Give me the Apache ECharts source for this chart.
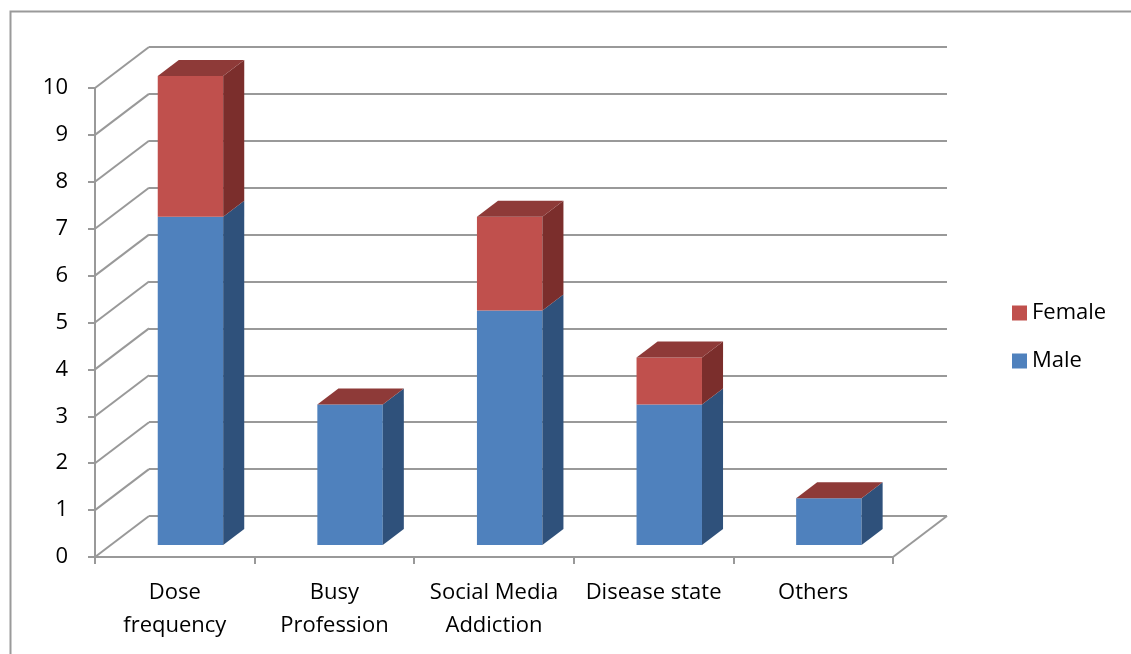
<!DOCTYPE html>
<html>
<head>
<meta charset="utf-8">
<script src="https://cdn.jsdelivr.net/npm/echarts@6/dist/echarts.min.js"></script>
<style>
  html, body { margin: 0; padding: 0; background: #ffffff; }
  #chart { width: 1131px; height: 654px; }
</style>
</head>
<body>
<div id="chart"></div>
<script>
// Chart data
const categories = ['Dose\nfrequency', 'Busy\nProfession', 'Social Media\nAddiction', 'Disease state', 'Others'];
const maleValues = [7, 3, 5, 3, 1];
const femaleValues = [3, 0, 2, 1, 0];
const yTicks = [0, 1, 2, 3, 4, 5, 6, 7, 8, 9, 10];

// Pseudo-3D geometry: direction in which the floor and walls recede (px)
const DEPTH = [54, -41];
const BAR_FRONT = 0.29;   // depth fraction of the bar's front face
const BAR_BACK = 0.68;    // depth fraction of the bar's back face
const BAR_WIDTH = 0.41;   // bar width as a share of the category band

const FONT = '"Open Sans"';
const FONT_SIZE = 22;
const LINE = '#999999';

const maleColors = { front: '#4F81BD', side: '#2F517B', top: '#3D6796' };
const femaleColors = { front: '#C0504D', side: '#7B2E2C', top: '#8E3A38' };

function barSegment(colors, withTop) {
  return function (params, api) {
    const idx = api.value(0);
    const base = api.value(1);
    const top = api.value(2);
    const pb = api.coord([idx, base]);
    const pt = api.coord([idx, top]);
    const w = api.size([1, 0])[0] * BAR_WIDTH;
    const fx = DEPTH[0] * BAR_FRONT, fy = DEPTH[1] * BAR_FRONT;
    const dx = DEPTH[0] * (BAR_BACK - BAR_FRONT), dy = DEPTH[1] * (BAR_BACK - BAR_FRONT);
    const l = pb[0] - w / 2 + fx, r = pb[0] + w / 2 + fx;
    const yb = pb[1] + fy, yt = pt[1] + fy;
    const children = [];
    if (top > base) {
      children.push({
        type: 'polygon',
        shape: { points: [[l, yb], [r, yb], [r, yt], [l, yt]] },
        style: { fill: colors.front }
      });
      children.push({
        type: 'polygon',
        shape: { points: [[r, yb], [r + dx, yb + dy], [r + dx, yt + dy], [r, yt]] },
        style: { fill: colors.side }
      });
    }
    if (withTop) {
      children.push({
        type: 'polygon',
        shape: { points: [[l, yt], [r, yt], [r + dx, yt + dy], [l + dx, yt + dy]] },
        style: { fill: colors.top }
      });
    }
    return { type: 'group', children: children };
  };
}

// Left wall diagonals and the right edge of the floor
function wallLines(params, api) {
  const v = api.value(1);
  const y = api.coord([0, v])[1];
  const cs = params.coordSys;
  const style = { stroke: LINE, lineWidth: 2 };
  const children = [{
    type: 'line',
    shape: { x1: cs.x, y1: y, x2: cs.x + DEPTH[0], y2: y + DEPTH[1] },
    style: style
  }];
  if (v === 0) {
    children.push({
      type: 'line',
      shape: { x1: cs.x + cs.width, y1: y, x2: cs.x + cs.width + DEPTH[0], y2: y + DEPTH[1] },
      style: style
    });
  }
  return { type: 'group', children: children };
}

const chart = echarts.init(document.getElementById('chart'), null, { renderer: 'canvas' });

chart.setOption({
  animation: false,
  backgroundColor: '#ffffff',
  textStyle: { fontFamily: FONT },
  graphic: [{
    type: 'rect',
    left: 8, top: 9,
    shape: { width: 1200, height: 800 },
    style: { fill: 'none', stroke: '#9a9a9a', lineWidth: 2 },
    silent: true
  }],
  legend: {
    orient: 'vertical',
    left: 1012,
    top: 302,
    padding: 0,
    itemWidth: 15,
    itemHeight: 15,
    itemGap: 26,
    icon: 'rect',
    data: ['Female', 'Male'],
    textStyle: { fontFamily: FONT, fontSize: FONT_SIZE, lineHeight: 22, color: '#000000' }
  },
  grid: [
    { left: 95, right: 238, top: 88, bottom: 97 },
    { left: 95 + DEPTH[0], right: 238 - DEPTH[0], top: 88 + DEPTH[1], bottom: 97 - DEPTH[1] }
  ],
  xAxis: [{
    gridIndex: 0,
    type: 'category',
    data: categories,
    axisLine: { show: true, lineStyle: { color: LINE, width: 2 } },
    axisTick: { show: true, length: 7, lineStyle: { color: LINE, width: 2 } },
    axisLabel: {
      color: '#000000', fontFamily: FONT, fontSize: FONT_SIZE, lineHeight: 33,
      margin: 19, interval: 0
    },
    splitLine: { show: false }
  }, {
    gridIndex: 1,
    type: 'category',
    data: categories,
    show: false
  }],
  yAxis: [{
    gridIndex: 0,
    type: 'value',
    min: 0, max: 10, interval: 1,
    axisLine: { show: true, lineStyle: { color: LINE, width: 2 } },
    axisTick: { show: true, length: 7, lineStyle: { color: LINE, width: 2 } },
    axisLabel: { color: '#000000', fontFamily: FONT, fontSize: FONT_SIZE, margin: 27 },
    splitLine: { show: false }
  }, {
    gridIndex: 1,
    type: 'value',
    min: 0, max: 10, interval: 1,
    axisLine: { show: false },
    axisTick: { show: false },
    axisLabel: { show: false },
    splitLine: { show: true, lineStyle: { color: LINE, width: 2 } }
  }],
  series: [{
    type: 'custom',
    name: 'walls',
    xAxisIndex: 0, yAxisIndex: 0,
    renderItem: wallLines,
    data: yTicks.map(v => [0, v]),
    encode: { x: 0, y: 1 },
    silent: true,
    z: 1
  }, {
    type: 'custom',
    name: 'Male',
    xAxisIndex: 0, yAxisIndex: 0,
    itemStyle: { color: maleColors.front },
    renderItem: barSegment(maleColors, false),
    data: maleValues.map((v, i) => [i, 0, v]),
    encode: { x: 0, y: 2 },
    z: 3
  }, {
    type: 'custom',
    name: 'Female',
    xAxisIndex: 0, yAxisIndex: 0,
    itemStyle: { color: femaleColors.front },
    renderItem: barSegment(femaleColors, true),
    data: femaleValues.map((v, i) => [i, maleValues[i], maleValues[i] + v]),
    encode: { x: 0, y: 2 },
    z: 3
  }]
});
</script>
</body>
</html>
